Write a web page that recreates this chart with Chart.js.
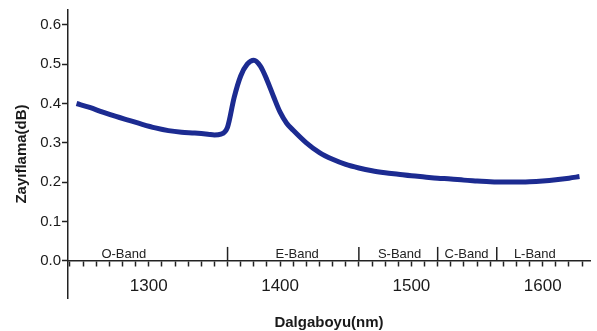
<!DOCTYPE html>
<html>
<head>
<meta charset="utf-8">
<script src="https://cdn.jsdelivr.net/npm/chart.js@4/dist/chart.umd.min.js"></script>
<style>
  html, body { margin: 0; padding: 0; background: #fff; }
  #wrap { width: 597px; height: 331px; position: relative; }
</style>
</head>
<body>
<div id="wrap"><canvas id="lossChart"></canvas></div>
<script>
Chart.defaults.font.family = "'Liberation Sans', Arial, sans-serif";
Chart.defaults.color = '#1a1a1a';

// wavelength (nm) and attenuation (dB)
const wavelengths = [1245, 1255, 1265, 1275, 1285, 1295, 1305, 1315, 1325, 1335, 1345, 1350, 1355,
  1360, 1365, 1370, 1375, 1380, 1385, 1390, 1395, 1400, 1405, 1410, 1420, 1430, 1440, 1450,
  1460, 1470, 1480, 1490, 1500, 1510, 1520, 1530, 1540, 1550, 1560, 1570, 1580, 1590, 1600,
  1610, 1620, 1628];
const attenuation = [0.400, 0.390, 0.378, 0.367, 0.357, 0.347, 0.338, 0.331, 0.327, 0.325, 0.322, 0.320, 0.322,
  0.340, 0.415, 0.470, 0.500, 0.510, 0.495, 0.460, 0.418, 0.378, 0.350, 0.332, 0.300, 0.275, 0.258, 0.245,
  0.236, 0.229, 0.224, 0.220, 0.216, 0.213, 0.210, 0.208, 0.205, 0.203, 0.201, 0.200, 0.200, 0.201, 0.203,
  0.206, 0.210, 0.214];

// band boundaries and labels
const bandEdges = [1360, 1460, 1520, 1565];
const bandNames = ['O-Band', 'E-Band', 'S-Band', 'C-Band', 'L-Band'];
const bandLabelPos = [1281, 1413, 1491, 1542, 1594];
const bandEdgeHeight = 0.035;

const lineColor = '#1c2b91';

const datasets = [{
  data: wavelengths.map((w, i) => ({ x: w, y: attenuation[i] })),
  borderColor: lineColor,
  borderWidth: 5,
  pointRadius: 0,
  tension: 0.4,
  cubicInterpolationMode: 'monotone',
  fill: false
}];

bandEdges.forEach(e => {
  datasets.push({
    data: [{ x: e, y: 0 }, { x: e, y: bandEdgeHeight }],
    borderColor: '#222',
    borderWidth: 1.5,
    pointRadius: 0,
    fill: false
  });
});

// band names along the axis
const bandLabels = {
  id: 'bandLabels',
  afterDatasetsDraw(chart) {
    const { ctx, scales: { x, y } } = chart;
    ctx.save();
    ctx.font = "13px 'Liberation Sans', Arial, sans-serif";
    ctx.fillStyle = '#222';
    ctx.textAlign = 'center';
    ctx.textBaseline = 'middle';
    bandNames.forEach((name, i) => {
      ctx.fillText(name, x.getPixelForValue(bandLabelPos[i]), y.getPixelForValue(0.016));
    });
    ctx.restore();
  }
};

new Chart(document.getElementById('lossChart'), {
  type: 'line',
  data: { datasets: datasets },
  plugins: [bandLabels],
  options: {
    responsive: true,
    maintainAspectRatio: false,
    animation: false,
    layout: { padding: { top: 6, right: 7, bottom: 33, left: 0 } },
    plugins: {
      legend: { display: false },
      tooltip: { enabled: false }
    },
    scales: {
      x: {
        type: 'linear',
        position: { y: 0 },
        min: 1238.5,
        max: 1636,
        border: { display: true, color: '#222', width: 1.5 },
        grid: { drawOnChartArea: false, drawTicks: true, tickLength: 5, tickColor: '#222', tickWidth: 1.5 },
        ticks: {
          stepSize: 10,
          autoSkip: false,
          includeBounds: false,
          maxRotation: 0,
          padding: 10,
          font: { size: 17 },
          callback: v => (Math.round(v) % 100 === 0 ? Math.round(v) : '')
        },
        title: {
          display: true,
          text: 'Dalgaboyu(nm)',
          font: { size: 15, weight: 'bold' },
          padding: 0
        },
        afterFit: scale => { scale.height = 71; }
      },
      y: {
        position: 'left',
        min: -0.095,
        max: 0.638,
        border: { display: true, color: '#222', width: 1.5 },
        grid: { drawOnChartArea: false, drawTicks: true, tickLength: 6, tickColor: '#222', tickWidth: 1.5 },
        ticks: {
          stepSize: 0.1,
          includeBounds: false,
          padding: 1,
          font: { size: 15 },
          callback: v => v.toFixed(1)
        },
        title: {
          display: true,
          text: 'Zayıflama(dB)',
          font: { size: 15, weight: 'bold' },
          padding: { top: 13, bottom: 0 }
        },
        afterFit: scale => { scale.width = 68; }
      }
    }
  }
});
</script>
</body>
</html>
